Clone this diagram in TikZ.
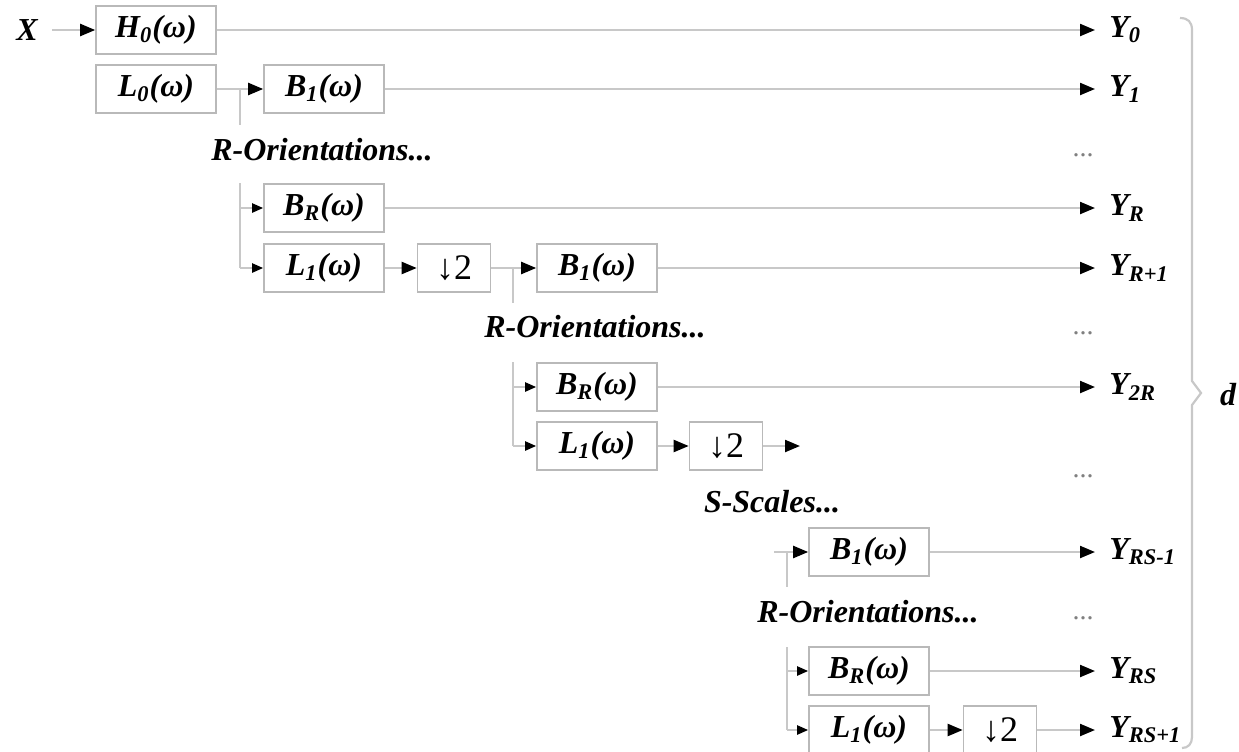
\documentclass[tikz,border=0pt]{standalone}
\usepackage{fontspec}
\setmainfont{Liberation Serif}
\usetikzlibrary{arrows.meta}
\definecolor{boxgray}{RGB}{185,185,185}
\definecolor{linegray}{RGB}{200,200,200}
\begin{document}
\begin{tikzpicture}[x=0.5pt,y=-0.5pt,
  font=\fontsize{16}{19}\selectfont\bfseries\itshape,
  blk/.style={draw=boxgray, line width=0.8pt, minimum width=60pt, minimum height=24pt, inner sep=0pt},
  dwn/.style={blk, minimum width=36.5pt, font=\fontsize{18}{19}\selectfont\mdseries\upshape},
  wire/.style={draw=linegray, line width=1.1pt},
  arr/.style={wire, -{Triangle[black,length=7.5pt,width=6pt]}},
  sarr/.style={wire, -{Triangle[black,length=5.5pt,width=4.5pt]}},
  lab/.style={anchor=west, inner xsep=7pt, inner ysep=0pt},
  dts/.style={text=gray, font=\fontsize{14}{14}\selectfont\mdseries\upshape}
]
\useasboundingbox (0,0) rectangle (1239,751);

% input
\node[inner xsep=7pt] (x) at (27,30) {X};

% boxes
\node[blk] (h0) at (156,30) {H\textsubscript{0}(ω)};
\node[blk] (l0) at (156,89) {L\textsubscript{0}(ω)};
\node[blk] (b1a) at (324,89) {B\textsubscript{1}(ω)};
\node[blk] (bra) at (324,208) {B\textsubscript{R}(ω)};
\node[blk] (l1a) at (324,268) {L\textsubscript{1}(ω)};
\node[dwn] (d2a) at (454,268) {↓2};
\node[blk] (b1b) at (597,268) {B\textsubscript{1}(ω)};
\node[blk] (brb) at (597,387) {B\textsubscript{R}(ω)};
\node[blk] (l1b) at (597,446) {L\textsubscript{1}(ω)};
\node[dwn] (d2b) at (726,446) {↓2};
\node[blk] (b1c) at (869,552) {B\textsubscript{1}(ω)};
\node[blk] (brc) at (869,671) {B\textsubscript{R}(ω)};
\node[blk] (l1c) at (869,730) {L\textsubscript{1}(ω)};
\node[dwn] (d2c) at (1000,730) {↓2};

% texts
\node (ro1) at (322,150) {R-Orientations...};
\node (ro2) at (595,327) {R-Orientations...};
\node (ss) at (772,502) {S-Scales...};
\node (ro3) at (868,612) {R-Orientations...};
\node[dts] (e1) at (1083,155) {...};
\node[dts] (e2) at (1083,333) {...};
\node[dts] (e3) at (1083,476) {...};
\node[dts] (e4) at (1083,618) {...};

% outputs
\node[lab] (y0) at (1095,30) {Y\textsubscript{0}};
\node[lab] (y1) at (1095,89) {Y\textsubscript{1}};
\node[lab] (yr) at (1095,208) {Y\textsubscript{R}};
\node[lab] (yr1) at (1095,268) {Y\textsubscript{R+1}};
\node[lab] (y2r) at (1095,387) {Y\textsubscript{2R}};
\node[lab] (yrsm) at (1095,552) {Y\textsubscript{RS-1}};
\node[lab] (yrs) at (1095,671) {Y\textsubscript{RS}};
\node[lab] (yrsp) at (1095,730) {Y\textsubscript{RS+1}};
\node (d) at (1228,395) {d};

% coordinates
\coordinate (j1) at (240,89);
\coordinate (j1b) at (240,125);
\coordinate (va1) at (240,183);
\coordinate (va2) at (240,268);
\coordinate (j2) at (513,268);
\coordinate (j2b) at (513,303);
\coordinate (vb1) at (513,362);
\coordinate (vb2) at (513,446);
\coordinate (oe) at (800,446);
\coordinate (s3) at (774,552);
\coordinate (j3) at (787,552);
\coordinate (j3b) at (787,587);
\coordinate (vc1) at (787,647);
\coordinate (vc2) at (787,730);

% connectors
\draw[arr] (x.east) -- (h0.west);
\draw[arr] (h0.east) -- (y0.west);
\draw[arr] (l0.east) -- (b1a.west);
\draw[wire] (j1) -- (j1b);
\draw[arr] (b1a.east) -- (y1.west);
\draw[wire] (va1) -- (va2);
\draw[sarr] (va1 |- bra.west) -- (bra.west);
\draw[sarr] (va2) -- (l1a.west);
\draw[arr] (bra.east) -- (yr.west);
\draw[arr] (l1a.east) -- (d2a.west);
\draw[arr] (d2a.east) -- (b1b.west);
\draw[wire] (j2) -- (j2b);
\draw[arr] (b1b.east) -- (yr1.west);
\draw[wire] (vb1) -- (vb2);
\draw[sarr] (vb1 |- brb.west) -- (brb.west);
\draw[sarr] (vb2) -- (l1b.west);
\draw[arr] (brb.east) -- (y2r.west);
\draw[arr] (l1b.east) -- (d2b.west);
\draw[arr] (d2b.east) -- (oe);
\draw[arr] (s3) -- (b1c.west);
\draw[wire] (j3) -- (j3b);
\draw[arr] (b1c.east) -- (yrsm.west);
\draw[wire] (vc1) -- (vc2);
\draw[sarr] (vc1 |- brc.west) -- (brc.west);
\draw[sarr] (vc2) -- (l1c.west);
\draw[arr] (brc.east) -- (yrs.west);
\draw[arr] (l1c.east) -- (d2c.west);
\draw[arr] (d2c.east) -- (yrsp.west);

% brace
\draw[wire] (1180,18) .. controls (1188,18) and (1192,22) .. (1192,30)
  -- (1192,381) -- (1201,393) -- (1192,405) -- (1192,737)
  .. controls (1192,744) and (1188,748) .. (1182,748);
\end{tikzpicture}
\end{document}
